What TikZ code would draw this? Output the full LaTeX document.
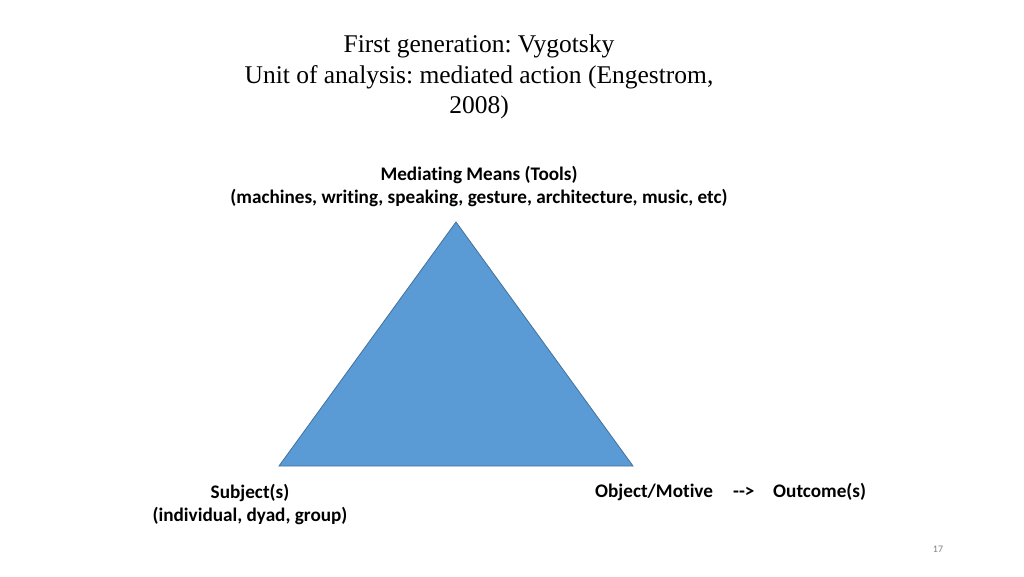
\documentclass[tikz,border=0pt]{standalone}
\usepackage{fontspec}
\setmainfont{Liberation Serif}
\newfontfamily\calib[Ligatures=NoCommon]{Carlito}
\frenchspacing
\begin{document}
\begin{tikzpicture}[x=1pt,y=-1pt,
  titletext/.style={font=\fontsize{25.5}{30.5}\selectfont, align=center, inner sep=0pt},
  lbl/.style={font=\calib\bfseries\fontsize{19.2}{23}\selectfont, align=center, inner sep=0pt},
  tri/.style={fill=triblue, draw=triedge, line width=0.8pt, line join=miter}]
\definecolor{triblue}{HTML}{5B9BD5}
\definecolor{triedge}{HTML}{41719C}
\useasboundingbox (0,0) rectangle (1024,576);
\node[titletext] (title) at (479,77) {First generation: Vygotsky\\Unit of analysis: mediated action (Engestrom,\\2008)};
\node[lbl] (tools) at (479,186) {Mediating Means (Tools)\\(machines, writing, speaking, gesture, architecture, music, etc)};
\coordinate (apex) at (456,222);
\coordinate (left) at (279,466);
\coordinate (right) at (633,466);
\draw[tri] (apex) -- (right) -- (left) -- cycle;
\node[lbl] (subject) at (250,504) {Subject(s)\\(individual, dyad, group)};
\node[lbl, anchor=west] (object) at (595,492) {Object/Motive};
\node[lbl, anchor=west] (arrow) at (733,492) {-{}->};
\node[lbl, anchor=west] (outcome) at (773,492) {Outcome(s)};
\node[font=\calib\fontsize{10}{12}\selectfont, text=gray, inner sep=0pt] (page) at (938,549) {17};
\end{tikzpicture}
\end{document}
